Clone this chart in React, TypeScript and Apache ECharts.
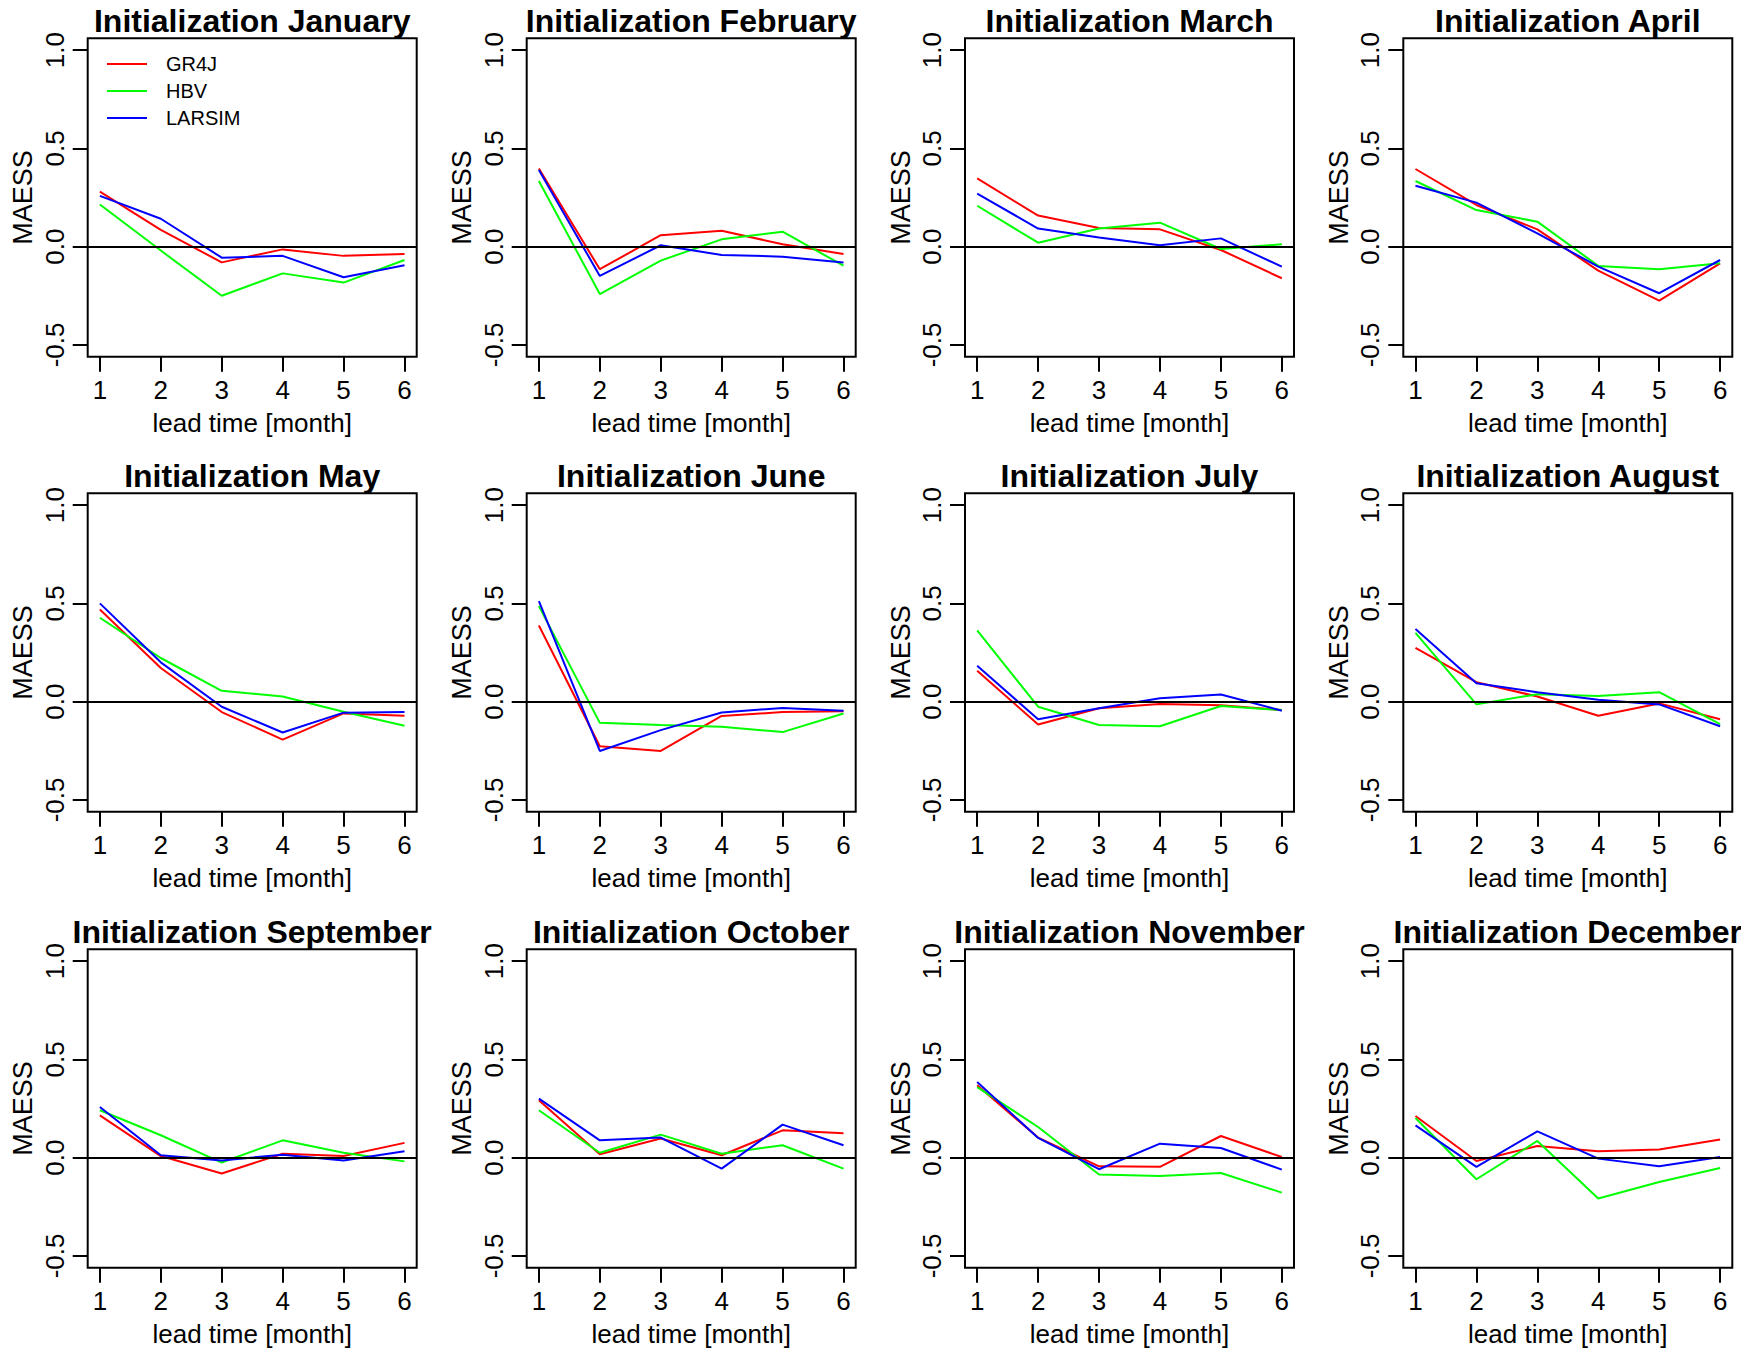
import React, { useEffect, useRef } from "react";
import * as echarts from "echarts";

const months = [
  "January", "February", "March", "April", "May", "June",
  "July", "August", "September", "October", "November", "December",
];
const leadTimes = [1, 2, 3, 4, 5, 6];
const yTicks = [-0.5, 0, 0.5, 1.0];
const modelNames = ["GR4J", "HBV", "LARSIM"];
const modelColors = ["#FF0000", "#00FF00", "#0000FF"];

// MAESS per initialization month (rows) and lead time 1..6 (columns)
const GR4J = [
  [0.28, 0.085, -0.08, -0.014, -0.047, -0.037],
  [0.398, -0.115, 0.058, 0.081, 0.012, -0.037],
  [0.347, 0.158, 0.095, 0.088, -0.017, -0.161],
  [0.395, 0.212, 0.088, -0.122, -0.275, -0.085],
  [0.469, 0.171, -0.053, -0.193, -0.06, -0.072],
  [0.387, -0.227, -0.251, -0.073, -0.053, -0.049],
  [0.157, -0.116, -0.034, -0.012, -0.019, -0.043],
  [0.273, 0.099, 0.026, -0.072, -0.009, -0.09],
  [0.215, 0.008, -0.081, 0.02, 0.008, 0.075],
  [0.292, 0.017, 0.097, 0.012, 0.139, 0.124],
  [0.368, 0.102, -0.044, -0.047, 0.11, 0.003],
  [0.212, -0.017, 0.059, 0.032, 0.041, 0.092],
];
const HBV = [
  [0.214, -0.02, -0.25, -0.136, -0.183, -0.068],
  [0.334, -0.241, -0.071, 0.037, 0.076, -0.097],
  [0.208, 0.02, 0.092, 0.122, -0.012, 0.012],
  [0.334, 0.186, 0.127, -0.098, -0.115, -0.085],
  [0.427, 0.222, 0.055, 0.026, -0.051, -0.123],
  [0.486, -0.108, -0.119, -0.128, -0.155, -0.06],
  [0.362, -0.026, -0.119, -0.125, -0.022, -0.043],
  [0.35, -0.014, 0.038, 0.029, 0.048, -0.114],
  [0.241, 0.114, -0.025, 0.088, 0.025, -0.019],
  [0.241, 0.025, 0.117, 0.02, 0.063, -0.056],
  [0.359, 0.156, -0.086, -0.093, -0.078, -0.178],
  [0.202, -0.11, 0.085, -0.208, -0.124, -0.053],
];
const LARSIM = [
  [0.258, 0.142, -0.056, -0.047, -0.156, -0.095],
  [0.39, -0.149, 0.007, -0.042, -0.051, -0.081],
  [0.27, 0.092, 0.047, 0.007, 0.042, -0.102],
  [0.31, 0.224, 0.068, -0.102, -0.237, -0.068],
  [0.5, 0.2, -0.026, -0.157, -0.056, -0.053],
  [0.512, -0.251, -0.145, -0.055, -0.032, -0.046],
  [0.183, -0.09, -0.034, 0.017, 0.036, -0.046],
  [0.37, 0.094, 0.048, 0.009, -0.014, -0.125],
  [0.258, 0.012, -0.014, 0.015, -0.014, 0.032],
  [0.3, 0.088, 0.102, -0.056, 0.168, 0.063],
  [0.385, 0.1, -0.059, 0.071, 0.049, -0.061],
  [0.164, -0.047, 0.134, -0.005, -0.044, 0.003],
];
const modelData = [GR4J, HBV, LARSIM];

const FONT = "'Liberation Sans', Arial, Helvetica, sans-serif";
const colLeft = [87.7, 526.7, 965, 1403.3];
const rowTop = [38.3, 493.3, 949.3];
const gridW = 329;
const gridH = 318.4;

export default function App() {
  const ref = useRef<HTMLDivElement>(null);

  useEffect(() => {
    if (!ref.current) return;
    const chart = echarts.init(ref.current, undefined, { renderer: "svg" });

    const grids: any[] = [];
    const xAxes: any[] = [];
    const yAxes: any[] = [];
    const titles: any[] = [];
    const series: any[] = [];

    months.forEach((m, i) => {
      const c = i % 4;
      const r = Math.floor(i / 4);
      const left = colLeft[c];
      const top = rowTop[r];
      grids.push({
        left,
        top,
        width: gridW,
        height: gridH,
        show: true,
        borderColor: "#000",
        borderWidth: 2,
        backgroundColor: "transparent",
        containLabel: false,
      });
      xAxes.push({
        type: "value",
        gridIndex: i,
        min: 0.8,
        max: 6.2,
        splitLine: { show: false },
        axisLine: { show: false, onZero: false },
        axisTick: {
          show: true,
          inside: false,
          length: 15,
          customValues: leadTimes,
          lineStyle: { color: "#000", width: 2 },
        },
        axisLabel: {
          customValues: leadTimes,
          margin: 20,
          color: "#000",
          fontSize: 26,
          fontFamily: FONT,
        },
        name: "lead time [month]",
        nameLocation: "middle",
        nameGap: 53,
        nameTextStyle: { color: "#000", fontSize: 26, fontFamily: FONT },
      });
      yAxes.push({
        type: "value",
        gridIndex: i,
        min: -0.56,
        max: 1.06,
        splitLine: { show: false },
        axisLine: { show: false, onZero: false },
        axisTick: {
          show: true,
          inside: false,
          length: 15,
          customValues: yTicks,
          lineStyle: { color: "#000", width: 2 },
        },
        axisLabel: {
          customValues: yTicks,
          rotate: 90,
          margin: 20,
          color: "#000",
          fontSize: 26,
          fontFamily: FONT,
          formatter: (v: number) => v.toFixed(1),
        },
        name: "MAESS",
        nameLocation: "middle",
        nameGap: 51,
        nameTextStyle: { color: "#000", fontSize: 27, fontFamily: FONT },
      });
      titles.push({
        text: "Initialization " + m,
        left: left + gridW / 2,
        top: top - 33,
        textAlign: "center",
        padding: 0,
        textStyle: {
          color: "#000",
          fontSize: 32,
          fontWeight: "bold",
          fontFamily: FONT,
        },
      });
      modelNames.forEach((name, k) => {
        series.push({
          type: "line",
          name,
          xAxisIndex: i,
          yAxisIndex: i,
          symbol: "none",
          color: modelColors[k],
          lineStyle: { color: modelColors[k], width: 2 },
          data: leadTimes.map((t, j) => [t, modelData[k][i][j]]),
          markLine:
            k === 0
              ? {
                  silent: true,
                  symbol: ["none", "none"],
                  label: { show: false },
                  lineStyle: { color: "#000", width: 2, type: "solid" },
                  data: [{ yAxis: 0 }],
                }
              : undefined,
        });
      });
    });

    chart.setOption({
      animation: false,
      backgroundColor: "#fff",
      title: titles,
      legend: {
        data: modelNames.map((n) => ({ name: n, icon: "rect" })),
        orient: "vertical",
        left: 107,
        top: 54,
        padding: 0,
        itemWidth: 40,
        itemHeight: 2,
        itemGap: 7,
        textStyle: {
          color: "#000",
          fontSize: 20,
          fontFamily: FONT,
          padding: [0, 0, 0, 14],
        },
      },
      grid: grids,
      xAxis: xAxes,
      yAxis: yAxes,
      series,
    });

    return () => chart.dispose();
  }, []);

  return (
    <div
      ref={ref}
      style={{
        position: "absolute",
        left: 0,
        top: 0,
        width: 1741,
        height: 1352,
        background: "#fff",
      }}
    />
  );
}
